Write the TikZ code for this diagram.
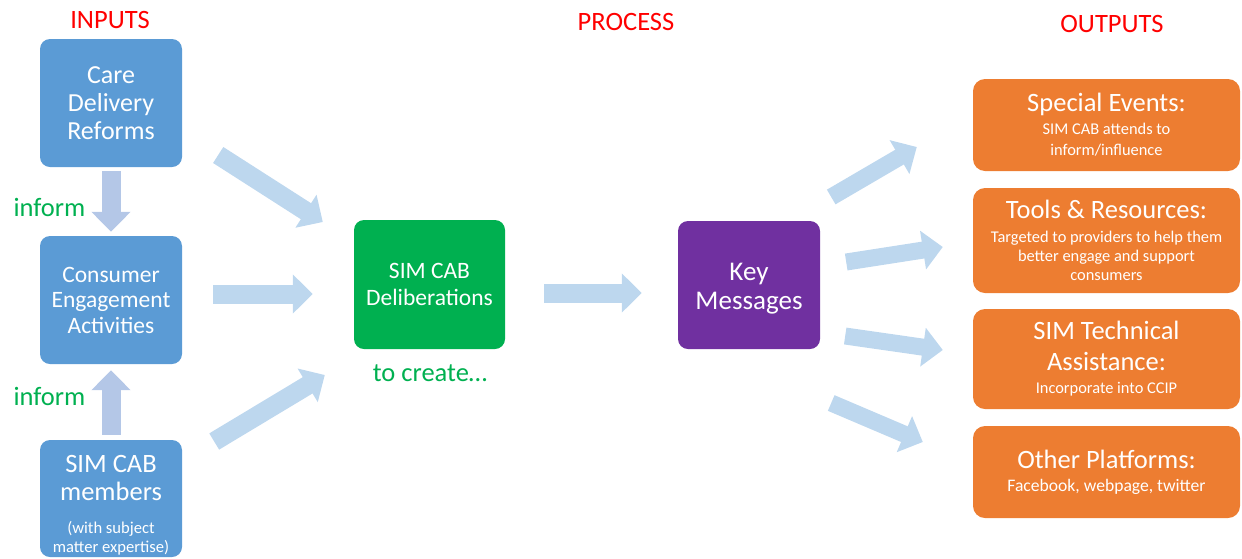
\documentclass[tikz,border=0pt]{standalone}
\usepackage{fontspec}
\setmainfont{Carlito}
\usetikzlibrary{arrows.meta}

\definecolor{inblue}{HTML}{5B9BD5}
\definecolor{delgreen}{HTML}{00B050}
\definecolor{keypurple}{HTML}{7030A0}
\definecolor{outorange}{HTML}{ED7D31}
\definecolor{flowblue}{HTML}{BDD7EE}
\definecolor{informblue}{HTML}{B4C7E7}

% big text lines inside boxes whose node font is the small one
\newcommand{\bigline}[1]{{\fontsize{26.5}{28}\selectfont #1}}

\tikzset{
  box/.style={rounded corners=10pt, text=white, align=center, inner sep=0pt,
    font=\fontsize{26}{28}\selectfont},
  inbox/.style={box, fill=inblue, minimum width=142pt, minimum height=128pt},
  delbox/.style={box, fill=delgreen, minimum width=151pt, minimum height=129pt},
  keybox/.style={box, fill=keypurple, minimum width=142pt, minimum height=128pt},
  outbox/.style={box, fill=outorange, rounded corners=12pt, minimum width=267pt,
    font=\fontsize{16.4}{19}\selectfont},
  heading/.style={text=red, font=\fontsize{26.5}{28}\selectfont},
  note/.style={text=delgreen, font=\fontsize{26.5}{28}\selectfont},
  flow/.style={draw=flowblue, line width=19pt, -{Triangle[width=38pt,length=20pt]}},
  informflow/.style={flow, draw=informblue},
}

\begin{document}
\begin{tikzpicture}[x=1pt,y=-1pt]
\useasboundingbox (0,0) rectangle (1242,558);

% column headings
\node[heading] (inputs) at (110,20) {INPUTS};
\node[heading] (process) at (626,22) {PROCESS};
\node[heading] (outputs) at (1112,24) {OUTPUTS};

% inputs
\node[inbox] (care) at (111,103) {Care\\Delivery\\Reforms};
\node[inbox, font=\fontsize{23.5}{25.5}\selectfont] (consumer) at (111,300) {Consumer\\Engagement\\Activities};
\node[inbox, minimum height=117pt, font=\fontsize{16.6}{19}\selectfont] (members) at (111,498.5)
  {\bigline{\rule{0pt}{30pt}SIM CAB}\\[9pt]\bigline{members}\\[14pt](with subject\\matter expertise)};

\node[note] (inform1) at (49.5,207) {inform};
\node[note] (inform2) at (49.5,396) {inform};

\draw[informflow, shorten <=4pt, shorten >=4pt] (care.south) -- (consumer.north);
\draw[informflow, shorten <=5pt, shorten >=6pt] (members.north) -- (consumer.south);

% process
\node[delbox, font=\fontsize{23.5}{27}\selectfont] (delib) at (429.5,284.5) {SIM CAB\\Deliberations};
\node[note] (create) at (430,373) {to create…};
\node[keybox, font=\fontsize{27}{29}\selectfont] (key) at (749,285) {\rule{0pt}{24pt}Key\\Messages};

\draw[flow] ([shift={(36,52)}]care.east) -- ([shift={(-31,-62.5)}]delib.west);
\draw[flow] ([shift={(31,-6)}]consumer.east) -- ([shift={(-41,9.5)}]delib.west);
\draw[flow] ([shift={(32,-57)}]members.east) -- ([shift={(-29,90.5)}]delib.west);
\draw[flow] ([shift={(39,8.5)}]delib.east) -- ([shift={(-36,8)}]key.west);

% outputs
\node[outbox, minimum height=92pt] (events) at (1106.5,125)
  {\bigline{Special Events:}\\[4pt]SIM CAB attends to\\[2pt]inform/influence};
\node[outbox, minimum height=105pt] (tools) at (1106.5,240.5)
  {\bigline{Tools \& Resources:}\\[5pt]Targeted to providers to help them\\better engage and support\\consumers};
\node[outbox, minimum height=100pt] (tech) at (1106.5,359)
  {\bigline{SIM Technical}\\[12pt]\bigline{Assistance:}\\[4pt]Incorporate into CCIP};
\node[outbox, minimum height=92pt, font=\fontsize{17.6}{19}\selectfont] (other) at (1106.5,472)
  {\bigline{Other Platforms:}\\[4pt]Facebook, webpage, twitter};

\draw[flow, line width=17pt] ([shift={(11,-88)}]key.east) -- ([shift={(-56,22)}]events.west);
\draw[flow, line width=17pt] ([shift={(26,-23)}]key.east) -- ([shift={(-30,6.5)}]tools.west);
\draw[flow, line width=17pt] ([shift={(25,51)}]key.east) -- ([shift={(-30,-9)}]tech.west);
\draw[flow, line width=17pt] ([shift={(11,118)}]key.east) -- ([shift={(-50,-30)}]other.west);

\end{tikzpicture}
\end{document}
